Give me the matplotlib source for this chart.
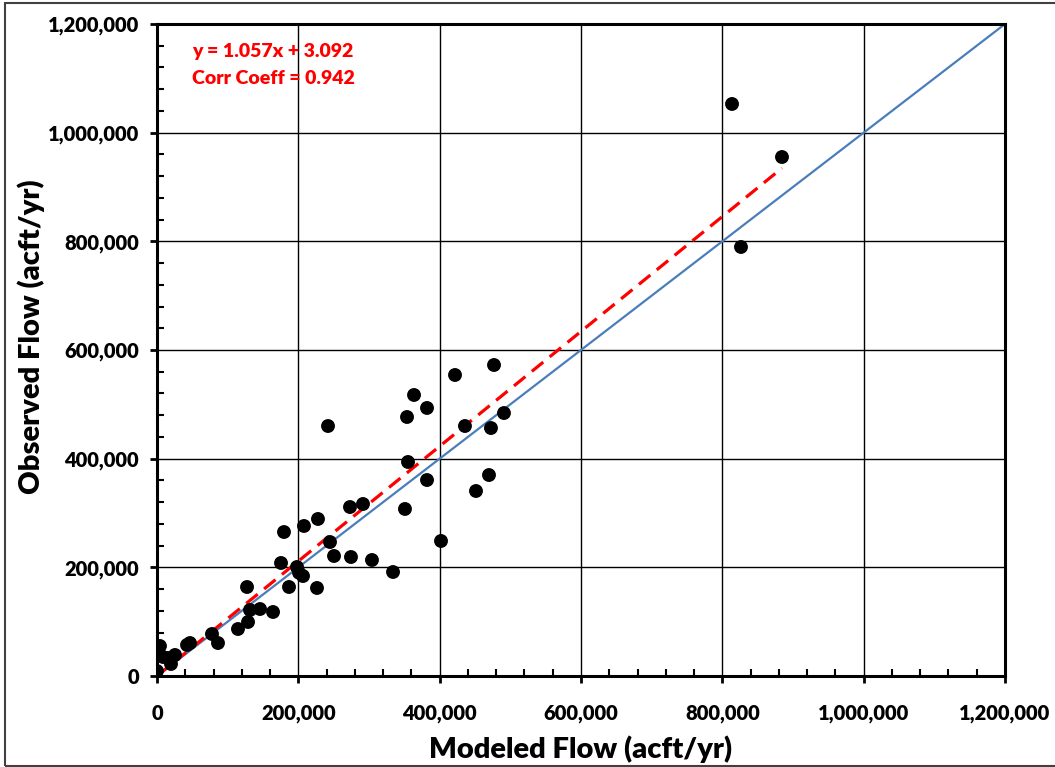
import matplotlib
matplotlib.use("Agg")
import matplotlib.pyplot as plt
from matplotlib.ticker import MultipleLocator, FuncFormatter
from matplotlib.patches import Rectangle

# ---- data (acft/yr) ----
modeled = [813700, 884400, 826400, 476900, 421700, 363700, 382100, 353800,
           242000, 435800, 491000, 472600, 355200, 382100, 469800, 451400,
           350900, 291500, 273100, 401900, 250500, 274500, 304200, 334000,
           244800, 179700, 208000, 227800, 175500, 198100, 206600, 201000,
           127400, 186800, 226400, 131600, 145800, 164200, 128800, 114600,
           77800, 86300, 46700, 42500, 4200, 25500, 8500, 19800, 0, 15600]
observed = [1052800, 955200, 789600, 572400, 554000, 517200, 493300, 476700,
            460100, 460100, 484000, 456400, 393900, 360700, 369900, 340500,
            307400, 316600, 311000, 248500, 220900, 219000, 213500, 191400,
            246600, 265000, 276100, 289000, 208000, 200600, 184000, 190000,
            163800, 163800, 162000, 121500, 123300, 117800, 99400, 86500,
            77300, 60700, 60700, 57100, 55200, 38700, 35000, 22100, 9200, 33100]

slope = 1.057
intercept = 3.092
corr_coeff = 0.942
one_to_one = [0, 1200000]
axis_max = 1200000
major_step = 200000
minor_step = 40000

FONT = "Lato"

fig = plt.figure(figsize=(10.55, 7.67), dpi=100)
ax = fig.add_axes([157/1055, 1 - 676/767, 848/1055, 652/767])

# grid
ax.set_axisbelow(True)
ax.grid(True, which="major", color="black", linewidth=1.0)

# 1:1 line
ax.plot(one_to_one, one_to_one, color="#4A7EBB", linewidth=1.6, zorder=2)

# regression line
x_fit = [0, max(modeled)]
y_fit = [slope * v + intercept for v in x_fit]
ax.plot(x_fit, y_fit, color="#FF0000", linewidth=2.3,
        linestyle=(0, (4.6, 2.6)), zorder=3)

# points
ax.scatter(modeled, observed, s=100, color="black", edgecolors="none", zorder=4)

ax.set_xlim(0, axis_max)
ax.set_ylim(0, axis_max)
ax.xaxis.set_major_locator(MultipleLocator(major_step))
ax.yaxis.set_major_locator(MultipleLocator(major_step))
ax.xaxis.set_minor_locator(MultipleLocator(minor_step))
ax.yaxis.set_minor_locator(MultipleLocator(minor_step))
fmt = FuncFormatter(lambda v, p: f"{int(round(v)):,}")
ax.xaxis.set_major_formatter(fmt)
ax.yaxis.set_major_formatter(fmt)

for sp in ax.spines.values():
    sp.set_linewidth(2.2)
    sp.set_color("black")

ax.tick_params(which="major", direction="out", length=5, width=2,
               labelsize=14.5, color="black")
ax.tick_params(axis="x", which="major", pad=15)
ax.tick_params(axis="y", which="major", pad=8)
ax.tick_params(which="minor", direction="in", length=5, width=1.5, color="black")
for lab in ax.get_xticklabels() + ax.get_yticklabels():
    lab.set_fontfamily(FONT)
    lab.set_fontweight("heavy")

ax.set_xlabel("Modeled Flow (acft/yr)", fontsize=21, fontweight="heavy",
              family=FONT)
ax.set_ylabel("Observed Flow (acft/yr)", fontsize=21, fontweight="heavy",
              family=FONT)
ax.xaxis.set_label_coords(0.5, -0.113)
ax.xaxis.label.set_va("center")
ax.yaxis.set_label_coords(-0.148, 0.52)
ax.yaxis.label.set_va("center")

ax.text(0.0415, 0.958, f"y = {slope}x + {intercept}", transform=ax.transAxes,
        color="#FF0000", fontsize=14, fontweight="heavy", family=FONT,
        ha="left", va="center")
ax.text(0.0415, 0.916, f"Corr Coeff = {corr_coeff}", transform=ax.transAxes,
        color="#FF0000", fontsize=14, fontweight="heavy", family=FONT,
        ha="left", va="center")

# outer chart border
fig.patches.append(Rectangle((5/1055, 1/767), 1.2, 763/767,
                             transform=fig.transFigure, fill=False,
                             edgecolor="#404040", linewidth=1.5))

fig.savefig("out.png", dpi=100)
